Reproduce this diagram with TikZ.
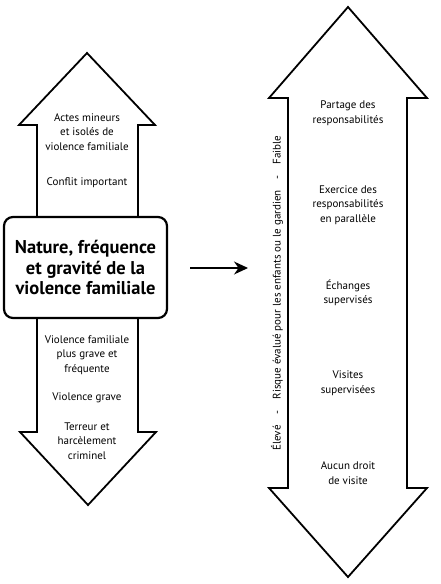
\documentclass[tikz,border=0pt]{standalone}
\usepackage{fontspec}
\setmainfont{PT Sans}
\usetikzlibrary{arrows.meta}
\begin{document}
\begin{tikzpicture}
  [x=1pt,y=-1pt,line width=1.8pt,
   every node/.style={align=center,font=\fontsize{11}{14.5}\selectfont},
   titlebox/.style={draw,rounded corners=9pt,line width=2.2pt,minimum width=163pt,minimum height=101pt,font=\fontsize{18.5}{20.5}\selectfont\bfseries}]
  \useasboundingbox (0,0) rectangle (440,584);

  \node (box) [titlebox] at (85.5,267.5) {Nature, fréquence\\et gravité de la\\violence familiale};
  \draw (37,217) -- (37,125) -- (19,125) -- (87,53) -- (155,125) -- (138,125) -- (138,217);
  \draw (37,318) -- (37,432) -- (20,432) -- (88,505) -- (156,432) -- (138,432) -- (138,318);

  \node (a1) at (87,132) {Actes mineurs\\et isolés de\\violence familiale};
  \node (a2) at (87,183) {Conflit important};
  \node (a3) at (87,355) {Violence familiale\\plus grave et\\fréquente};
  \node (a4) at (87,398) {Violence grave};
  \node (a5) at (87,441) {Terreur et\\harcèlement\\criminel};

  \draw (288,98) -- (269,98) -- (348,7) -- (427,98) -- (407,98) -- (407,488) -- (427,488)
    -- (348,577) -- (269,488) -- (288,488) -- cycle;

  \node (b1) at (348,113) {Partage des\\responsabilités};
  \node (b2) at (348,205) {Exercice des\\responsabilités\\en parallèle};
  \node (b3) at (348,293) {Échanges\\supervisés};
  \node (b4) at (348,383) {Visites\\supervisées};
  \node (b5) at (348,473) {Aucun droit\\de visite};
  \node (risk) [rotate=90,font=\fontsize{11}{13}\selectfont] at (277,293)
    {Élevé\quad -\quad Risque évalué pour les enfants ou le gardien\quad -\quad Faible};

  \coordinate (c1) at (190,268);
  \coordinate (c2) at (248,268);
  \draw [-{Stealth[length=14pt,width=13pt]},line width=1.2pt] (c1) -- (c2);

\end{tikzpicture}
\end{document}
